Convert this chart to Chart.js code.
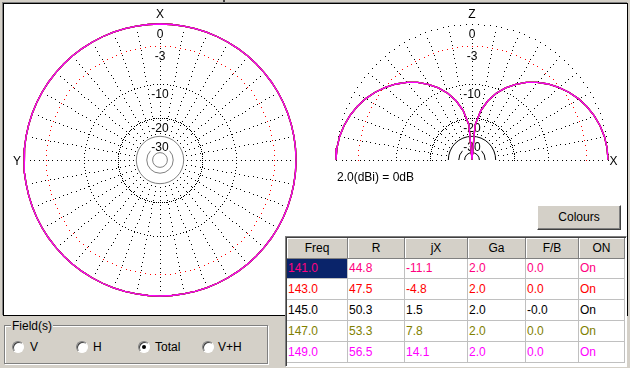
<!DOCTYPE html>
<html>
<head>
<meta charset="utf-8">
<script src="https://cdn.jsdelivr.net/npm/chart.js@4.4.1/dist/chart.umd.min.js"></script>
<style>
body { margin:0; width:630px; height:368px; background:#d4d0c8; position:relative; overflow:hidden;
       font-family:"Liberation Sans", Arial, sans-serif; font-size:12px; color:#000; }
.abs { position:absolute; }
#panel { left:3px; top:3px; width:623px; height:311px; background:#fff; border:1px solid #000;
         box-shadow:-1px -1px 0 #808080; }
#gainRef { left:337px; top:170px; line-height:15px; white-space:nowrap; }
#colours { left:537px; top:205px; width:82px; height:23px; line-height:23px; text-align:center; background:#d4d0c8;
           border:1px solid; border-color:#fff #404040 #404040 #fff; box-shadow:inset -1px -1px 0 #808080; }
#grid { left:285px; top:236px; width:340px; height:129px; background:#fff; border:1px solid;
        border-color:#808080 #fff #fff #808080; box-shadow:inset 1px 1px 0 #404040; }
.cell { position:absolute; box-sizing:border-box; white-space:nowrap; overflow:hidden; padding-left:1px;
        border-right:1px solid #c0c0c0; border-bottom:1px solid #c0c0c0; }
.head { background:#d4d0c8; text-align:center; padding-left:0; border-right:1px solid #808080;
        border-bottom:1px solid #808080; box-shadow:inset 1px 1px 0 #fff; color:#000; }
#fields { left:4px; top:325px; width:262px; height:37px; border:1px solid #808080; box-shadow:1px 1px 0 #fff, inset 1px 1px 0 #fff; }
#fieldsTitle { left:11px; top:319px; line-height:14px; padding:0 1px; background:#d4d0c8; }
.radio { position:absolute; top:341px; width:10px; height:10px; border-radius:50%; background:#fff; border:1px solid;
         border-color:#808080 #fff #fff #808080; box-shadow:inset 1px 1px 0 #404040; }
.radio.on::after { content:""; position:absolute; left:3px; top:3px; width:4px; height:4px; border-radius:50%; background:#000; }
.rlabel { position:absolute; top:340px; line-height:14px; }
</style>
</head>
<body>
<div class="abs" style="left:223px;top:0;width:2px;height:2px;background:#404040"></div>
<div id="panel" class="abs"></div>
<canvas id="azChart" class="abs" width="300" height="310" style="left:10px;top:4px"></canvas>
<canvas id="elChart" class="abs" width="300" height="168" style="left:322px;top:4px"></canvas>
<div id="gainRef" class="abs">2.0(dBi) = 0dB</div>
<div id="colours" class="abs">Colours</div>
<div id="grid" class="abs"></div>
<div id="fields" class="abs"></div>
<div id="fieldsTitle" class="abs">Field(s)</div>
<div class="radio" style="left:12px"></div><div class="rlabel" style="left:30px">V</div>
<div class="radio" style="left:76px"></div><div class="rlabel" style="left:93px">H</div>
<div class="radio on" style="left:138px"></div><div class="rlabel" style="left:155px">Total</div>
<div class="radio" style="left:202px"></div><div class="rlabel" style="left:218px">V+H</div>
<script>
// Sweep table
const freqs = ['141.0', '143.0', '145.0', '147.0', '149.0'];
const rValues = ['44.8', '47.5', '50.3', '53.3', '56.5'];
const jxValues = ['-11.1', '-4.8', '1.5', '7.8', '14.1'];
const gaValues = ['2.0', '2.0', '2.0', '2.0', '2.0'];
const fbValues = ['0.0', '0.0', '-0.0', '0.0', '0.0'];
const onValues = ['On', 'On', 'On', 'On', 'On'];
const freqColors = ['#ff0080', '#ff0000', '#000000', '#808000', '#ff00ff'];
const headers = ['Freq', 'R', 'jX', 'Ga', 'F/B', 'ON'];

// Ring levels in dB (ARRL log scale), labels drawn inside each ring
const ringDb = [0, -3, -10, -20, -30];
const ringLabels = ['0', '-3', '-10', '-20', '-30'];
const innerRingDb = [-30, -40, -50];

// Horizontal pattern: azimuth (deg) vs gain (dB rel. 2.0 dBi)
const azAngles = [0, 5, 10, 15, 20, 25, 30, 35, 40, 45, 50, 55, 60, 65, 70, 75, 80, 85, 90,
    95, 100, 105, 110, 115, 120, 125, 130, 135, 140, 145, 150, 155, 160, 165, 170, 175, 180,
    185, 190, 195, 200, 205, 210, 215, 220, 225, 230, 235, 240, 245, 250, 255, 260, 265, 270,
    275, 280, 285, 290, 295, 300, 305, 310, 315, 320, 325, 330, 335, 340, 345, 350, 355, 360];
const azGain = [0, 0, 0, 0, 0, 0, 0, 0, 0, 0, 0, 0, 0, 0, 0, 0, 0, 0, 0,
    0, 0, 0, 0, 0, 0, 0, 0, 0, 0, 0, 0, 0, 0, 0, 0, 0, 0,
    0, 0, 0, 0, 0, 0, 0, 0, 0, 0, 0, 0, 0, 0, 0, 0, 0, 0,
    0, 0, 0, 0, 0, 0, 0, 0, 0, 0, 0, 0, 0, 0, 0, 0, 0, 0];

// Vertical pattern: elevation (deg, 0 = X side) vs gain (dB)
const elAngles = [0, 5, 10, 15, 20, 25, 30, 35, 40, 45, 50, 55, 60, 65, 70, 75, 80, 85, 90,
    95, 100, 105, 110, 115, 120, 125, 130, 135, 140, 145, 150, 155, 160, 165, 170, 175, 180];
const elGain = [0, -0.05, -0.19, -0.44, -0.78, -1.22, -1.76, -2.41, -3.17, -4.04, -5.05, -6.22,
    -7.58, -9.2, -11.16, -13.68, -17.22, -23.27, -99,
    -23.27, -17.22, -13.68, -11.16, -9.2, -7.58, -6.22, -5.05, -4.04, -3.17, -2.41, -1.76,
    -1.22, -0.78, -0.44, -0.19, -0.05, 0];

function dbToRadius(db) {
    return Math.pow(0.89, -db / 2);
}

function polarGrid(half, axisNames) {
    return {
        id: 'polarGrid',
        beforeDatasetsDraw(chart) {
            const ctx = chart.ctx;
            const xs = chart.scales.x, ys = chart.scales.y;
            const cx = xs.getPixelForValue(0), cy = ys.getPixelForValue(0);
            const rad = db => xs.getPixelForValue(dbToRadius(db)) - cx;
            const span = half ? 180 : 360;
            const dot = (x, y) => ctx.fillRect(Math.round(x), Math.round(y), 1, 1);
            ctx.save();

            // radials every 10 deg
            ctx.fillStyle = '#000';
            const rIn = rad(-30), rOut = rad(0);
            for (let a = 0; a < 360; a += 10) {
                if (half && a > 180) break;
                const t = a * Math.PI / 180;
                for (let r = rIn + 3; r <= rOut - 3; r += 4.5) dot(cx + r * Math.cos(t), cy - r * Math.sin(t));
            }

            // dotted rings (0 dB ring sits under the pattern)
            ringDb.forEach(db => {
                if (db <= -30 || db === 0) return;
                ctx.fillStyle = db === -3 ? '#ff0000' : '#000';
                const r = rad(db);
                for (let a = 0; a <= span; a += 2.5) {
                    const t = a * Math.PI / 180;
                    dot(cx + r * Math.cos(t), cy - r * Math.sin(t));
                }
            });
            if (half) {
                // outer ring only visible on the elevation plot
                ctx.fillStyle = '#000';
                for (let a = 0; a <= 180; a += 2.5) {
                    const t = a * Math.PI / 180;
                    dot(cx + rOut * Math.cos(t), cy - rOut * Math.sin(t));
                }
            }

            // solid inner rings
            ctx.strokeStyle = half ? '#000' : '#808080';
            ctx.lineWidth = 1;
            innerRingDb.forEach(db => {
                ctx.beginPath();
                ctx.arc(cx, cy, rad(db), half ? Math.PI : 0, 2 * Math.PI);
                ctx.stroke();
            });

            // ring labels
            ctx.font = '12px "Liberation Sans", Arial, sans-serif';
            ctx.textAlign = 'center';
            ctx.textBaseline = 'middle';
            ringDb.forEach((db, i) => {
                const y = cy - rad(db) + 10;
                const w = ctx.measureText(ringLabels[i]).width;
                ctx.fillStyle = '#fff';
                ctx.fillRect(cx - w / 2 - 1, y - 5, w + 2, 10);
                ctx.fillStyle = '#000';
                ctx.fillText(ringLabels[i], cx, y + 1);
            });

            // axis names
            ctx.fillText(axisNames[0], cx, cy - rOut - 9);
            if (half) ctx.fillText(axisNames[1], cx + rOut + 5.5, cy + 1.5);
            else ctx.fillText(axisNames[1], cx - rOut - 7, cy + 1.5);
            ctx.restore();
        }
    };
}

function patternDatasets(points) {
    // first dataset is drawn on top, so put the last frequency first
    return freqs.map((f, i) => ({
        label: f + ' MHz',
        data: points,
        showLine: true,
        borderColor: freqColors[i],
        borderWidth: 1.3,
        pointRadius: 0,
        fill: false
    })).reverse();
}

function makeChart(id, datasets, xMin, xMax, yMin, yMax, grid) {
    return new Chart(document.getElementById(id), {
        type: 'scatter',
        data: { datasets: datasets },
        options: {
            responsive: false,
            animation: false,
            events: [],
            layout: { padding: 0 },
            plugins: { legend: { display: false }, tooltip: { enabled: false } },
            scales: {
                x: { type: 'linear', display: false, min: xMin, max: xMax, bounds: 'data' },
                y: { type: 'linear', display: false, min: yMin, max: yMax, bounds: 'data' }
            }
        },
        plugins: [grid]
    });
}

const azPoints = azAngles.map((a, i) => {
    const r = dbToRadius(azGain[i]), t = a * Math.PI / 180;
    return { x: -r * Math.sin(t), y: r * Math.cos(t) };
});
const elPoints = elAngles.map((a, i) => {
    const r = dbToRadius(elGain[i]), t = a * Math.PI / 180;
    return { x: r * Math.cos(t), y: r * Math.sin(t) };
});

// canvases put the pole at page (160,160) and (472,160), 136 px = 0 dB
const k = 150 / 136;
makeChart('azChart', patternDatasets(azPoints), -k, k, -154 / 136, 156 / 136, polarGrid(false, ['X', 'Y']));
makeChart('elChart', patternDatasets(elPoints), -k, k, -12 / 136, 156 / 136, polarGrid(true, ['Z', 'X']));

// Table cells
const colX = [0, 61, 118, 181, 239, 292, 338];
const rowY = [0, 21, 41, 62, 83, 104, 125];
const gridEl = document.getElementById('grid');
const columns = [freqs, rValues, jxValues, gaValues, fbValues, onValues];

function addCell(c, r, text, cls, color, bg) {
    const d = document.createElement('div');
    d.className = 'cell' + (cls ? ' ' + cls : '');
    d.style.left = (colX[c] + 1) + 'px';
    d.style.top = (rowY[r] + 1) + 'px';
    d.style.width = (colX[c + 1] - colX[c]) + 'px';
    d.style.height = (rowY[r + 1] - rowY[r]) + 'px';
    d.style.lineHeight = (rowY[r + 1] - rowY[r] - 1) + 'px';
    if (color) d.style.color = color;
    if (bg) d.style.background = bg;
    d.textContent = text;
    gridEl.appendChild(d);
}

headers.forEach((h, c) => addCell(c, 0, h, 'head'));
freqs.forEach((f, r) => {
    columns.forEach((col, c) => {
        const selected = r === 0 && c === 0;
        addCell(c, r + 1, col[r], '', freqColors[r], selected ? '#0a246a' : null);
    });
});
</script>
</body>
</html>
